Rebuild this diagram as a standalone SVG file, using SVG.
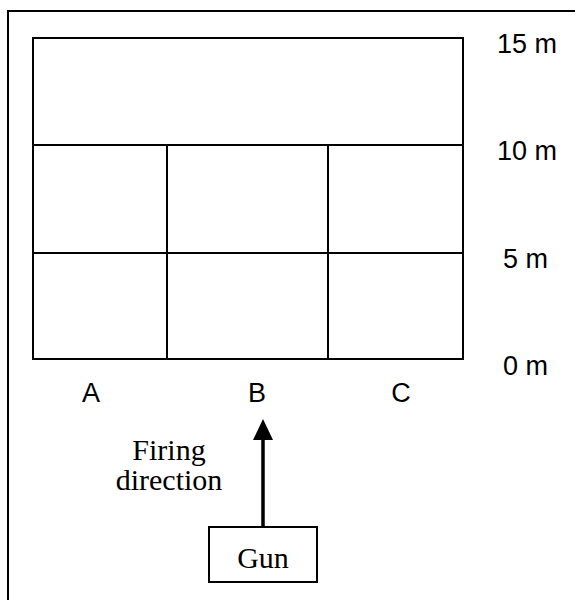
<svg xmlns="http://www.w3.org/2000/svg" width="575" height="600" viewBox="0 0 575 600">
<style>
.ln{stroke:#000;stroke-width:2;fill:none}
.sans{font-family:"Liberation Sans",Arial,sans-serif;font-size:27px;fill:#000}
.serif{font-family:"Liberation Serif","Times New Roman",serif;font-size:30px;fill:#000}
</style>
<defs>
<marker id="ah" markerWidth="6" markerHeight="6" refX="5" refY="3" orient="auto" markerUnits="strokeWidth">
<path d="M0,0 L6,3 L0,6 Z" fill="#000"/>
</marker>
</defs>
<rect width="575" height="600" fill="#fff"/>
<path class="ln" d="M8,600 V11 H575"/>
<g id="grid">
<rect class="ln" x="33" y="38" width="430" height="321"/>
<line class="ln" x1="33" y1="145" x2="463" y2="145"/>
<line class="ln" x1="33" y1="253" x2="463" y2="253"/>
<line class="ln" x1="167" y1="145" x2="167" y2="359"/>
<line class="ln" x1="328" y1="145" x2="328" y2="359"/>
</g>
<g id="scale">
<text class="sans" x="497" y="53">15 m</text>
<text class="sans" x="497" y="160">10 m</text>
<text class="sans" x="503" y="268">5 m</text>
<text class="sans" x="503" y="375">0 m</text>
</g>
<g id="columns">
<text class="sans" x="91" y="402" text-anchor="middle">A</text>
<text class="sans" x="257" y="402" text-anchor="middle">B</text>
<text class="sans" x="401" y="402" text-anchor="middle">C</text>
</g>
<g id="label">
<text class="serif" x="169" y="460" text-anchor="middle">Firing</text>
<text class="serif" x="169" y="490" text-anchor="middle">direction</text>
</g>
<g id="gun">
<rect class="ln" x="209" y="527" width="108" height="55"/>
<text class="serif" x="263" y="568" text-anchor="middle">Gun</text>
</g>
<g id="connectors">
<line x1="263" y1="527" x2="263" y2="437" stroke="#000" stroke-width="3.5"/>
<path d="M253,440 L263,419 L273,440 Z" fill="#000"/>
</g>
</svg>
